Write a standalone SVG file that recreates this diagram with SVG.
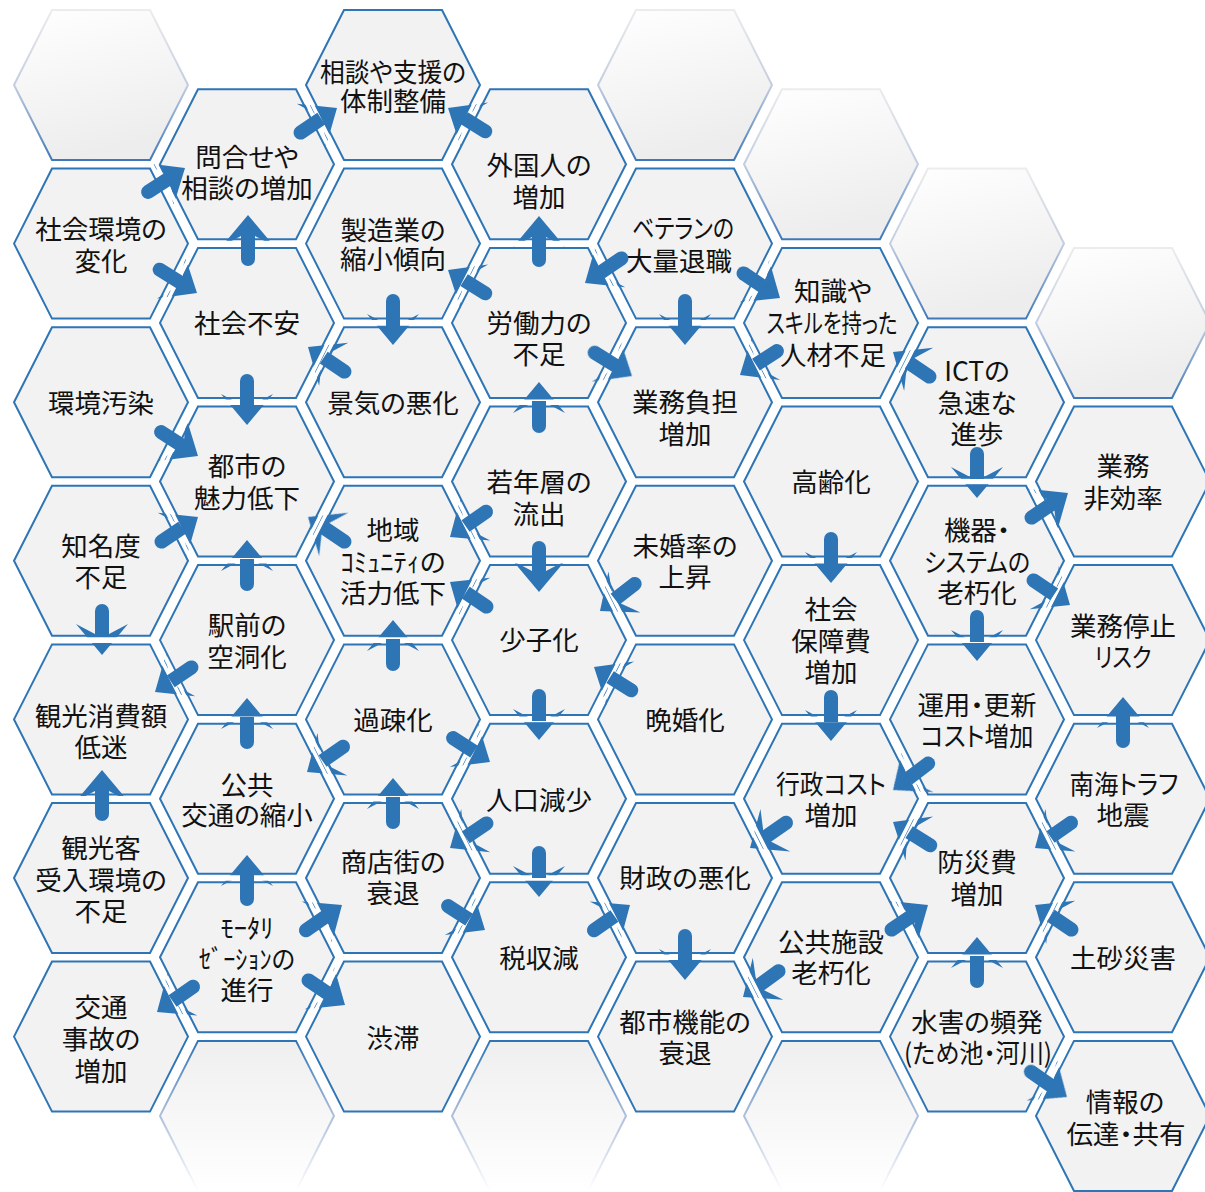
<svg xmlns="http://www.w3.org/2000/svg" xmlns:xlink="http://www.w3.org/1999/xlink" width="1205" height="1192" viewBox="0 0 1205 1192">
<style>
.hx{fill:#f2f2f2;stroke:#2e75b6;stroke-width:2}
.bt{fill:url(#gTopF);stroke:url(#gTopS);stroke-width:2}
.bb{fill:url(#gBotF);stroke:url(#gBotS);stroke-width:2}
.t{font-family:"Noto Sans CJK JP","Noto Sans CJK SC",sans-serif;font-size:26.5px;fill:#111;text-anchor:middle;font-feature-settings:"palt"}
.ah{fill:#2e75b6}
</style>
<defs>
<path id="hex" d="M-87,0 L-49,-75 L49,-75 L87,0 L49,75 L-49,75 Z"/>
<path id="ring" fill-rule="evenodd" d="M-92.6,0 L-52.1,-80.5 L52.1,-80.5 L92.6,0 L52.1,80.5 L-52.1,80.5 Z M-88.7,0 L-49.8,-76.5 L49.8,-76.5 L88.7,0 L49.8,76.5 L-49.8,76.5 Z"/>
<path id="head" d="M0,0 L-31,-26 L-21,-7 L-21,7 L-31,26 Z"/>
<path id="shaft" d="M-19,-7 L-44,-7 A7,7 0 0 0 -44,7 L-19,7 Z"/>
<linearGradient id="gTopF" x1="0" y1="0" x2="0.3" y2="1"><stop offset="0" stop-color="#ffffff"/><stop offset="1" stop-color="#ededed"/></linearGradient>
<linearGradient id="gTopS" x1="0" y1="0" x2="0" y2="1"><stop offset="0" stop-color="#ececec"/><stop offset="0.5" stop-color="#c3cde0"/><stop offset="1" stop-color="#3f78b8"/></linearGradient>
<linearGradient id="gBotF" x1="0" y1="0" x2="0" y2="1"><stop offset="0" stop-color="#efefef"/><stop offset="1" stop-color="#ffffff"/></linearGradient>
<linearGradient id="gBotS" x1="0" y1="0" x2="0" y2="1"><stop offset="0" stop-color="#2e75b6"/><stop offset="0.5" stop-color="#aebfdb"/><stop offset="1" stop-color="#ffffff"/></linearGradient>
<mask id="gapMask" maskUnits="userSpaceOnUse" x="0" y="0" width="1205" height="1192">
<rect width="1205" height="1192" fill="#fff"/>
<g fill="#000">
<use href="#ring" transform="translate(101,243.6)"/><use href="#ring" transform="translate(101,402.2)"/><use href="#ring" transform="translate(101,560.8)"/><use href="#ring" transform="translate(101,719.4)"/><use href="#ring" transform="translate(101,878)"/><use href="#ring" transform="translate(101,1036.6)"/>
<use href="#ring" transform="translate(247,164.3)"/><use href="#ring" transform="translate(247,322.9)"/><use href="#ring" transform="translate(247,481.5)"/><use href="#ring" transform="translate(247,640.1)"/><use href="#ring" transform="translate(247,798.7)"/><use href="#ring" transform="translate(247,957.3)"/>
<use href="#ring" transform="translate(393,85)"/><use href="#ring" transform="translate(393,243.6)"/><use href="#ring" transform="translate(393,402.2)"/><use href="#ring" transform="translate(393,560.8)"/><use href="#ring" transform="translate(393,719.4)"/><use href="#ring" transform="translate(393,878)"/><use href="#ring" transform="translate(393,1036.6)"/>
<use href="#ring" transform="translate(539,164.3)"/><use href="#ring" transform="translate(539,322.9)"/><use href="#ring" transform="translate(539,481.5)"/><use href="#ring" transform="translate(539,640.1)"/><use href="#ring" transform="translate(539,798.7)"/><use href="#ring" transform="translate(539,957.3)"/>
<use href="#ring" transform="translate(685,243.6)"/><use href="#ring" transform="translate(685,402.2)"/><use href="#ring" transform="translate(685,560.8)"/><use href="#ring" transform="translate(685,719.4)"/><use href="#ring" transform="translate(685,878)"/><use href="#ring" transform="translate(685,1036.6)"/>
<use href="#ring" transform="translate(831,322.9)"/><use href="#ring" transform="translate(831,481.5)"/><use href="#ring" transform="translate(831,640.1)"/><use href="#ring" transform="translate(831,798.7)"/><use href="#ring" transform="translate(831,957.3)"/>
<use href="#ring" transform="translate(977,402.2)"/><use href="#ring" transform="translate(977,560.8)"/><use href="#ring" transform="translate(977,719.4)"/><use href="#ring" transform="translate(977,878)"/><use href="#ring" transform="translate(977,1036.6)"/>
<use href="#ring" transform="translate(1123,481.5)"/><use href="#ring" transform="translate(1123,640.1)"/><use href="#ring" transform="translate(1123,798.7)"/><use href="#ring" transform="translate(1123,957.3)"/><use href="#ring" transform="translate(1123,1115.9)"/>
</g>
</mask>
</defs>
<rect width="1205" height="1192" fill="#ffffff"/>

<g id="blanks">
<use href="#hex" class="bt" transform="translate(101,85)"/>
<use href="#hex" class="bt" transform="translate(685,85)"/>
<use href="#hex" class="bt" transform="translate(831,164.3)"/>
<use href="#hex" class="bt" transform="translate(977,243.6)"/>
<use href="#hex" class="bt" transform="translate(1123,322.9)"/>
<use href="#hex" class="bb" transform="translate(247,1115.9)"/>
<use href="#hex" class="bb" transform="translate(539,1115.9)"/>
<use href="#hex" class="bb" transform="translate(831,1115.9)"/>
</g>

<g id="n-social-env"><use href="#hex" class="hx" transform="translate(101,243.6)"/><text class="t"><tspan x="101" y="239">社会環境の</tspan><tspan x="101" y="271">変化</tspan></text></g>
<g id="n-env-pollution"><use href="#hex" class="hx" transform="translate(101,402.2)"/><text class="t" x="101" y="413">環境汚染</text></g>
<g id="n-low-recognition"><use href="#hex" class="hx" transform="translate(101,560.8)"/><text class="t"><tspan x="101" y="556">知名度</tspan><tspan x="101" y="587">不足</tspan></text></g>
<g id="n-tourism-spending"><use href="#hex" class="hx" transform="translate(101,719.4)"/><text class="t"><tspan x="101" y="726">観光消費額</tspan><tspan x="101" y="757">低迷</tspan></text></g>
<g id="n-tourist-reception"><use href="#hex" class="hx" transform="translate(101,878)"/><text class="t"><tspan x="101" y="858">観光客</tspan><tspan x="101" y="890">受入環境の</tspan><tspan x="101" y="921">不足</tspan></text></g>
<g id="n-traffic-accidents"><use href="#hex" class="hx" transform="translate(101,1036.6)"/><text class="t"><tspan x="101" y="1017">交通</tspan><tspan x="101" y="1049">事故の</tspan><tspan x="101" y="1081">増加</tspan></text></g>

<g id="n-inquiries"><use href="#hex" class="hx" transform="translate(247,164.3)"/><text class="t"><tspan x="247" y="167">問合せや</tspan><tspan x="247" y="198">相談の増加</tspan></text></g>
<g id="n-social-anxiety"><use href="#hex" class="hx" transform="translate(247,322.9)"/><text class="t" x="247" y="333">社会不安</text></g>
<g id="n-city-appeal"><use href="#hex" class="hx" transform="translate(247,481.5)"/><text class="t"><tspan x="247" y="476">都市の</tspan><tspan x="247" y="508">魅力低下</tspan></text></g>
<g id="n-station-hollowing"><use href="#hex" class="hx" transform="translate(247,640.1)"/><text class="t"><tspan x="247" y="635">駅前の</tspan><tspan x="247" y="667">空洞化</tspan></text></g>
<g id="n-public-transport"><use href="#hex" class="hx" transform="translate(247,798.7)"/><text class="t"><tspan x="247" y="795">公共</tspan><tspan x="247" y="825">交通の縮小</tspan></text></g>
<g id="n-motorization"><use href="#hex" class="hx" transform="translate(247,957.3)"/><text class="t"><tspan x="247" y="938">ﾓｰﾀﾘ</tspan><tspan x="247" y="969" textLength="96" lengthAdjust="spacingAndGlyphs">ｾﾞｰｼｮﾝの</tspan><tspan x="247" y="1000">進行</tspan></text></g>

<g id="n-support-system"><use href="#hex" class="hx" transform="translate(393,85)"/><text class="t"><tspan x="393" y="82" textLength="146" lengthAdjust="spacingAndGlyphs">相談や支援の</tspan><tspan x="393" y="111">体制整備</tspan></text></g>
<g id="n-manufacturing"><use href="#hex" class="hx" transform="translate(393,243.6)"/><text class="t"><tspan x="393" y="240">製造業の</tspan><tspan x="393" y="269">縮小傾向</tspan></text></g>
<g id="n-recession"><use href="#hex" class="hx" transform="translate(393,402.2)"/><text class="t" x="393" y="413">景気の悪化</text></g>
<g id="n-community"><use href="#hex" class="hx" transform="translate(393,560.8)"/><text class="t"><tspan x="393" y="540">地域</tspan><tspan x="393" y="572">ｺﾐｭﾆﾃｨの</tspan><tspan x="393" y="603">活力低下</tspan></text></g>
<g id="n-depopulation"><use href="#hex" class="hx" transform="translate(393,719.4)"/><text class="t" x="393" y="730">過疎化</text></g>
<g id="n-shopping-street"><use href="#hex" class="hx" transform="translate(393,878)"/><text class="t"><tspan x="393" y="872">商店街の</tspan><tspan x="393" y="903">衰退</tspan></text></g>
<g id="n-congestion"><use href="#hex" class="hx" transform="translate(393,1036.6)"/><text class="t" x="393" y="1048">渋滞</text></g>

<g id="n-foreigners"><use href="#hex" class="hx" transform="translate(539,164.3)"/><text class="t"><tspan x="539" y="175">外国人の</tspan><tspan x="539" y="207">増加</tspan></text></g>
<g id="n-labor-shortage"><use href="#hex" class="hx" transform="translate(539,322.9)"/><text class="t"><tspan x="539" y="333">労働力の</tspan><tspan x="539" y="364">不足</tspan></text></g>
<g id="n-youth-outflow"><use href="#hex" class="hx" transform="translate(539,481.5)"/><text class="t"><tspan x="539" y="492">若年層の</tspan><tspan x="539" y="524">流出</tspan></text></g>
<g id="n-low-birthrate"><use href="#hex" class="hx" transform="translate(539,640.1)"/><text class="t" x="539" y="650">少子化</text></g>
<g id="n-population-decline"><use href="#hex" class="hx" transform="translate(539,798.7)"/><text class="t" x="539" y="810">人口減少</text></g>
<g id="n-tax-decline"><use href="#hex" class="hx" transform="translate(539,957.3)"/><text class="t" x="539" y="968">税収減</text></g>

<g id="n-veteran-retire"><use href="#hex" class="hx" transform="translate(685,243.6)"/><text class="t"><tspan x="683" y="238" textLength="102" lengthAdjust="spacingAndGlyphs">ベテランの</tspan><tspan x="679" y="271">大量退職</tspan></text></g>
<g id="n-workload"><use href="#hex" class="hx" transform="translate(685,402.2)"/><text class="t"><tspan x="685" y="412">業務負担</tspan><tspan x="685" y="444">増加</tspan></text></g>
<g id="n-unmarried"><use href="#hex" class="hx" transform="translate(685,560.8)"/><text class="t"><tspan x="685" y="556">未婚率の</tspan><tspan x="685" y="587">上昇</tspan></text></g>
<g id="n-late-marriage"><use href="#hex" class="hx" transform="translate(685,719.4)"/><text class="t" x="685" y="730">晩婚化</text></g>
<g id="n-fiscal"><use href="#hex" class="hx" transform="translate(685,878)"/><text class="t" x="685" y="888">財政の悪化</text></g>
<g id="n-urban-function"><use href="#hex" class="hx" transform="translate(685,1036.6)"/><text class="t"><tspan x="685" y="1032">都市機能の</tspan><tspan x="685" y="1063">衰退</tspan></text></g>

<g id="n-skilled-shortage"><use href="#hex" class="hx" transform="translate(831,322.9)"/><text class="t"><tspan x="833" y="301">知識や</tspan><tspan x="832" y="333" textLength="131" lengthAdjust="spacingAndGlyphs">スキルを持った</tspan><tspan x="833" y="365">人材不足</tspan></text></g>
<g id="n-aging"><use href="#hex" class="hx" transform="translate(831,481.5)"/><text class="t" x="831" y="492">高齢化</text></g>
<g id="n-social-security"><use href="#hex" class="hx" transform="translate(831,640.1)"/><text class="t"><tspan x="831" y="619">社会</tspan><tspan x="831" y="651">保障費</tspan><tspan x="831" y="682">増加</tspan></text></g>
<g id="n-admin-cost"><use href="#hex" class="hx" transform="translate(831,798.7)"/><text class="t"><tspan x="831" y="794" textLength="110" lengthAdjust="spacingAndGlyphs">行政コスト</tspan><tspan x="831" y="825">増加</tspan></text></g>
<g id="n-facility-aging"><use href="#hex" class="hx" transform="translate(831,957.3)"/><text class="t"><tspan x="831" y="952">公共施設</tspan><tspan x="831" y="983">老朽化</tspan></text></g>

<g id="n-ict"><use href="#hex" class="hx" transform="translate(977,402.2)"/><text class="t"><tspan x="977" y="381">ICTの</tspan><tspan x="977" y="413">急速な</tspan><tspan x="977" y="444">進歩</tspan></text></g>
<g id="n-system-aging"><use href="#hex" class="hx" transform="translate(977,560.8)"/><text class="t"><tspan x="977" y="540">機器・</tspan><tspan x="977" y="572" textLength="106" lengthAdjust="spacingAndGlyphs">システムの</tspan><tspan x="977" y="603">老朽化</tspan></text></g>
<g id="n-operation-cost"><use href="#hex" class="hx" transform="translate(977,719.4)"/><text class="t"><tspan x="977" y="715">運用・更新</tspan><tspan x="977" y="746" textLength="113" lengthAdjust="spacingAndGlyphs">コスト増加</tspan></text></g>
<g id="n-disaster-cost"><use href="#hex" class="hx" transform="translate(977,878)"/><text class="t"><tspan x="977" y="872">防災費</tspan><tspan x="977" y="904">増加</tspan></text></g>
<g id="n-flood"><use href="#hex" class="hx" transform="translate(977,1036.6)"/><text class="t"><tspan x="977" y="1032">水害の頻発</tspan><tspan x="978" y="1063" textLength="148" lengthAdjust="spacingAndGlyphs">(ため池・河川)</tspan></text></g>

<g id="n-inefficiency"><use href="#hex" class="hx" transform="translate(1123,481.5)"/><text class="t"><tspan x="1123" y="476">業務</tspan><tspan x="1123" y="508">非効率</tspan></text></g>
<g id="n-outage-risk"><use href="#hex" class="hx" transform="translate(1123,640.1)"/><text class="t"><tspan x="1123" y="636">業務停止</tspan><tspan x="1123" y="667" textLength="57" lengthAdjust="spacingAndGlyphs">リスク</tspan></text></g>
<g id="n-nankai"><use href="#hex" class="hx" transform="translate(1123,798.7)"/><text class="t"><tspan x="1124" y="794" textLength="109" lengthAdjust="spacingAndGlyphs">南海トラフ</tspan><tspan x="1123" y="825">地震</tspan></text></g>
<g id="n-landslide"><use href="#hex" class="hx" transform="translate(1123,957.3)"/><text class="t" x="1123" y="968">土砂災害</text></g>
<g id="n-info-sharing"><use href="#hex" class="hx" transform="translate(1123,1115.9)"/><text class="t"><tspan x="1125" y="1112">情報の</tspan><tspan x="1126" y="1144">伝達・共有</tspan></text></g>

<g id="connectors">
<g class="ah" mask="url(#gapMask)">
<use href="#head" transform="translate(185,168) rotate(-33)"/>
<use href="#head" transform="translate(337,108) rotate(-34)"/>
<use href="#head" transform="translate(197,293) rotate(32)"/>
<use href="#head" transform="translate(248,215) rotate(-90)"/>
<use href="#head" transform="translate(448,108) rotate(-148)"/>
<use href="#head" transform="translate(539,216) rotate(-90)"/>
<use href="#head" transform="translate(448,270) rotate(-148)"/>
<use href="#head" transform="translate(585,283) rotate(146)"/>
<use href="#head" transform="translate(780,298) rotate(34)"/>
<use href="#head" transform="translate(685,345) rotate(90)"/>
<use href="#head" transform="translate(393,345) rotate(90)"/>
<use href="#head" transform="translate(308,347) rotate(-146)"/>
<use href="#head" transform="translate(247,425) rotate(90)"/>
<use href="#head" transform="translate(198,456) rotate(33)"/>
<use href="#head" transform="translate(198,517) rotate(-34)"/>
<use href="#head" transform="translate(247,540) rotate(-90)"/>
<use href="#head" transform="translate(308,517) rotate(-146)"/>
<use href="#head" transform="translate(102,655) rotate(90)"/>
<use href="#head" transform="translate(155,692) rotate(146)"/>
<use href="#head" transform="translate(247,698) rotate(-90)"/>
<use href="#head" transform="translate(102,770) rotate(-90)"/>
<use href="#head" transform="translate(307,772) rotate(145)"/>
<use href="#head" transform="translate(247,855) rotate(-90)"/>
<use href="#head" transform="translate(342,905) rotate(-35)"/>
<use href="#head" transform="translate(157,1012) rotate(145)"/>
<use href="#head" transform="translate(345,1005) rotate(34)"/>
<use href="#head" transform="translate(393,620) rotate(-90)"/>
<use href="#head" transform="translate(450,582) rotate(-146)"/>
<use href="#head" transform="translate(450,537) rotate(145)"/>
<use href="#head" transform="translate(539,382) rotate(-90)"/>
<use href="#head" transform="translate(539,592) rotate(90)"/>
<use href="#head" transform="translate(600,611) rotate(142)"/>
<use href="#head" transform="translate(594,667) rotate(-148)"/>
<use href="#head" transform="translate(539,740) rotate(90)"/>
<use href="#head" transform="translate(490,762) rotate(33)"/>
<use href="#head" transform="translate(393,778) rotate(-90)"/>
<use href="#head" transform="translate(450,848) rotate(146)"/>
<use href="#head" transform="translate(539,897) rotate(90)"/>
<use href="#head" transform="translate(485,930) rotate(33)"/>
<use href="#head" transform="translate(630,905) rotate(-35)"/>
<use href="#head" transform="translate(685,980) rotate(90)"/>
<use href="#head" transform="translate(743,997) rotate(144)"/>
<use href="#head" transform="translate(632,376) rotate(32)"/>
<use href="#head" transform="translate(893,352) rotate(-146)"/>
<use href="#head" transform="translate(740,375) rotate(147)"/>
<use href="#head" transform="translate(977,498) rotate(90)"/>
<use href="#head" transform="translate(1068,493) rotate(-34)"/>
<use href="#head" transform="translate(1070,605) rotate(34)"/>
<use href="#head" transform="translate(977,661) rotate(90)"/>
<use href="#head" transform="translate(831,583) rotate(90)"/>
<use href="#head" transform="translate(831,741) rotate(90)"/>
<use href="#head" transform="translate(893,790) rotate(143)"/>
<use href="#head" transform="translate(750,848) rotate(145)"/>
<use href="#head" transform="translate(893,822) rotate(-148)"/>
<use href="#head" transform="translate(1123,697) rotate(-90)"/>
<use href="#head" transform="translate(1035,848) rotate(145)"/>
<use href="#head" transform="translate(1035,905) rotate(-146)"/>
<use href="#head" transform="translate(977,937) rotate(-90)"/>
<use href="#head" transform="translate(1067,1097) rotate(35)"/>
<use href="#head" transform="translate(928,905) rotate(-34)"/>
</g>
<g class="ah">
<use href="#shaft" transform="translate(185,168) rotate(-33)"/>
<use href="#shaft" transform="translate(337,108) rotate(-34)"/>
<use href="#shaft" transform="translate(197,293) rotate(32)"/>
<use href="#shaft" transform="translate(248,215) rotate(-90)"/>
<use href="#shaft" transform="translate(448,108) rotate(-148)"/>
<use href="#shaft" transform="translate(539,216) rotate(-90)"/>
<use href="#shaft" transform="translate(448,270) rotate(-148)"/>
<use href="#shaft" transform="translate(585,283) rotate(146)"/>
<use href="#shaft" transform="translate(780,298) rotate(34)"/>
<use href="#shaft" transform="translate(685,345) rotate(90)"/>
<use href="#shaft" transform="translate(393,345) rotate(90)"/>
<use href="#shaft" transform="translate(308,347) rotate(-146)"/>
<use href="#shaft" transform="translate(247,425) rotate(90)"/>
<use href="#shaft" transform="translate(198,456) rotate(33)"/>
<use href="#shaft" transform="translate(198,517) rotate(-34)"/>
<use href="#shaft" transform="translate(247,540) rotate(-90)"/>
<use href="#shaft" transform="translate(308,517) rotate(-146)"/>
<use href="#shaft" transform="translate(102,655) rotate(90)"/>
<use href="#shaft" transform="translate(155,692) rotate(146)"/>
<use href="#shaft" transform="translate(247,698) rotate(-90)"/>
<use href="#shaft" transform="translate(102,770) rotate(-90)"/>
<use href="#shaft" transform="translate(307,772) rotate(145)"/>
<use href="#shaft" transform="translate(247,855) rotate(-90)"/>
<use href="#shaft" transform="translate(342,905) rotate(-35)"/>
<use href="#shaft" transform="translate(157,1012) rotate(145)"/>
<use href="#shaft" transform="translate(345,1005) rotate(34)"/>
<use href="#shaft" transform="translate(393,620) rotate(-90)"/>
<use href="#shaft" transform="translate(450,582) rotate(-146)"/>
<use href="#shaft" transform="translate(450,537) rotate(145)"/>
<use href="#shaft" transform="translate(539,382) rotate(-90)"/>
<use href="#shaft" transform="translate(539,592) rotate(90)"/>
<use href="#shaft" transform="translate(600,611) rotate(142)"/>
<use href="#shaft" transform="translate(594,667) rotate(-148)"/>
<use href="#shaft" transform="translate(539,740) rotate(90)"/>
<use href="#shaft" transform="translate(490,762) rotate(33)"/>
<use href="#shaft" transform="translate(393,778) rotate(-90)"/>
<use href="#shaft" transform="translate(450,848) rotate(146)"/>
<use href="#shaft" transform="translate(539,897) rotate(90)"/>
<use href="#shaft" transform="translate(485,930) rotate(33)"/>
<use href="#shaft" transform="translate(630,905) rotate(-35)"/>
<use href="#shaft" transform="translate(685,980) rotate(90)"/>
<use href="#shaft" transform="translate(743,997) rotate(144)"/>
<use href="#shaft" transform="translate(632,376) rotate(32)"/>
<use href="#shaft" transform="translate(893,352) rotate(-146)"/>
<use href="#shaft" transform="translate(740,375) rotate(147)"/>
<use href="#shaft" transform="translate(977,498) rotate(90)"/>
<use href="#shaft" transform="translate(1068,493) rotate(-34)"/>
<use href="#shaft" transform="translate(1070,605) rotate(34)"/>
<use href="#shaft" transform="translate(977,661) rotate(90)"/>
<use href="#shaft" transform="translate(831,583) rotate(90)"/>
<use href="#shaft" transform="translate(831,741) rotate(90)"/>
<use href="#shaft" transform="translate(893,790) rotate(143)"/>
<use href="#shaft" transform="translate(750,848) rotate(145)"/>
<use href="#shaft" transform="translate(893,822) rotate(-148)"/>
<use href="#shaft" transform="translate(1123,697) rotate(-90)"/>
<use href="#shaft" transform="translate(1035,848) rotate(145)"/>
<use href="#shaft" transform="translate(1035,905) rotate(-146)"/>
<use href="#shaft" transform="translate(977,937) rotate(-90)"/>
<use href="#shaft" transform="translate(1067,1097) rotate(35)"/>
<use href="#shaft" transform="translate(928,905) rotate(-34)"/>
</g>
</g>
</svg>
